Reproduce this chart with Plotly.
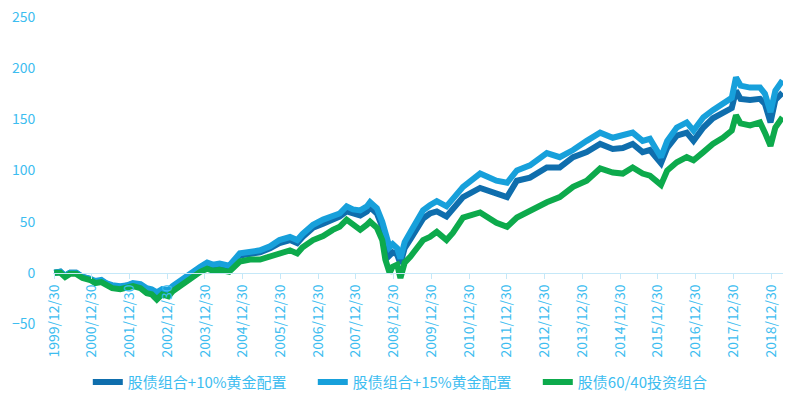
import plotly.graph_objects as go

# 数据（从图上读取的近似值，单位：累计收益 %）
dates = [
    "2000-01-01", "2000-03-01", "2000-04-15", "2000-06-01", "2000-08-01", "2000-10-01",
    "2000-12-15", "2001-02-01", "2001-04-01", "2001-05-15", "2001-07-15", "2001-10-01",
    "2001-12-15", "2002-02-01", "2002-04-15", "2002-06-15", "2002-08-01", "2002-09-20",
    "2002-11-10", "2003-01-10", "2003-02-20", "2003-05-01", "2003-07-10", "2003-09-10",
    "2003-11-15", "2004-01-20", "2004-03-15", "2004-05-20", "2004-08-20", "2004-12-01",
    "2005-03-10", "2005-06-15", "2005-09-20", "2005-12-20", "2006-04-01", "2006-06-10",
    "2006-08-01", "2006-11-10", "2007-02-15", "2007-05-20", "2007-07-25", "2007-10-01",
    "2007-12-01", "2008-02-10", "2008-04-15", "2008-05-15", "2008-07-20", "2008-09-10",
    "2008-10-10", "2008-11-20", "2008-12-20", "2009-02-01", "2009-03-05", "2009-04-15",
    "2009-06-10", "2009-08-15", "2009-10-10", "2009-12-15", "2010-02-20", "2010-05-25",
    "2010-07-25", "2010-11-01", "2011-04-15", "2011-09-20", "2012-01-01", "2012-04-05",
    "2012-08-10", "2013-01-20", "2013-05-25", "2013-10-01", "2014-02-10", "2014-06-20",
    "2014-10-20", "2015-01-25", "2015-05-01", "2015-08-05", "2015-10-15", "2016-01-30",
    "2016-03-30", "2016-07-01", "2016-10-05", "2016-12-10", "2017-03-15", "2017-06-15",
    "2017-09-20", "2017-12-15", "2018-01-25", "2018-03-10", "2018-06-10", "2018-09-15",
    "2018-11-01", "2018-12-25", "2019-02-10", "2019-04-20",
]
gold10 = [
    0, 1, -3, 0, 0, -4, -6, -9, -8, -10, -13, -14,
    -13, -11, -12, -16, -17, -21, -17, -18, -14, -9, -3, 2,
    5, 8, 7, 8, 6, 17, 19, 20, 24, 29, 32, 29,
    35, 44, 48, 52, 55, 60, 58, 56, 60, 64, 58, 45,
    30, 17, 20, 18, 9, 24, 33, 45, 53, 58, 60, 55,
    62, 74, 83, 78, 74, 90, 93, 103, 103, 113, 118, 126,
    121, 122, 126, 118, 120, 107, 122, 134, 137, 129, 142, 151,
    157, 161, 178, 170, 169, 170, 165, 147, 169, 176,
]
gold15 = [
    0, 1, -3, 0, 0, -4, -6, -8, -7, -10, -12, -13,
    -12, -10, -11, -15, -16, -19, -16, -17, -13, -8, -2, 3,
    6, 10, 8, 9, 7, 19, 21, 22, 26, 32, 35, 32,
    38, 47, 52, 56, 58, 65, 62, 61, 65, 69, 63, 50,
    37, 25, 28, 24, 14, 30, 40, 52, 61, 66, 70, 65,
    72, 84, 97, 90, 88, 100, 105, 117, 113, 120, 129, 137,
    132, 134, 137, 129, 131, 113, 129, 142, 147, 139, 152, 159,
    165, 171, 191, 183, 181, 181, 175, 157, 178, 188,
]
mix6040 = [
    0, 0, -4, -1, -1, -5, -7, -10, -9, -12, -15, -16,
    -15, -13, -15, -20, -21, -26, -21, -23, -18, -13, -7, -2,
    1, 4, 2, 3, 1, 11, 13, 13, 16, 20, 22, 19,
    25, 32, 36, 42, 45, 52, 48, 42, 47, 50, 44, 32,
    13, 0, 6, 8, -5, 10, 16, 25, 32, 35, 40, 32,
    39, 54, 59, 49, 45, 54, 61, 69, 74, 84, 90, 102,
    98, 97, 103, 97, 95, 86, 100, 108, 113, 110, 118, 126,
    132, 139, 154, 146, 144, 147, 137, 124, 142, 152,
]

tick_years = list(range(1999, 2019))
tick_vals = [f"{y}-12-30" for y in tick_years]
tick_text = [f"{y}/12/30" for y in tick_years]

txt_color = "#3DBDF0"
axis_color = "#C5E8F8"

fig = go.Figure()
series = [
    ("股债组合+10%黄金配置", gold10, "#0F6EAD"),
    ("股债组合+15%黄金配置", gold15, "#17A0DB"),
    ("股债60/40投资组合", mix6040, "#0DAA4C"),
]
for name, vals, color in series:
    fig.add_trace(go.Scatter(
        x=dates, y=vals, mode="lines", name=name,
        line=dict(color=color, width=6),
    ))

# 页面 body 默认有 8px 边距，图尺寸按此缩小
fig.update_layout(
    width=784, height=393,
    margin=dict(l=45, r=9, t=9, b=77, autoexpand=False),
    paper_bgcolor="white", plot_bgcolor="white",
    font=dict(family="Noto Sans CJK SC", color=txt_color, size=14),
    showlegend=True,
    legend=dict(
        orientation="h", x=0.51, xanchor="center", y=-0.19, yanchor="middle",
        font=dict(size=15, color=txt_color), itemwidth=30,
        entrywidth=180,
    ),
    xaxis=dict(
        type="date", range=["1999-12-20", "2019-04-25"],
        anchor="free", position=50 / 300, automargin=False,
        showline=True, linecolor=axis_color, linewidth=1,
        ticks="outside", tickcolor=axis_color, ticklen=5,
        tickmode="array", tickvals=tick_vals, ticktext=tick_text,
        tickangle=-90, tickfont=dict(size=14, color=txt_color),
        showgrid=False, zeroline=False,
    ),
    yaxis=dict(
        range=[-50, 250], dtick=50, tick0=0, automargin=False,
        showgrid=False, zeroline=False, showline=False,
        ticks="outside", ticklen=14, tickcolor="rgba(0,0,0,0)",
        ticklabeloverflow="allow",
        tickfont=dict(size=14, color=txt_color),
    ),
)

fig.write_html("out.html")
